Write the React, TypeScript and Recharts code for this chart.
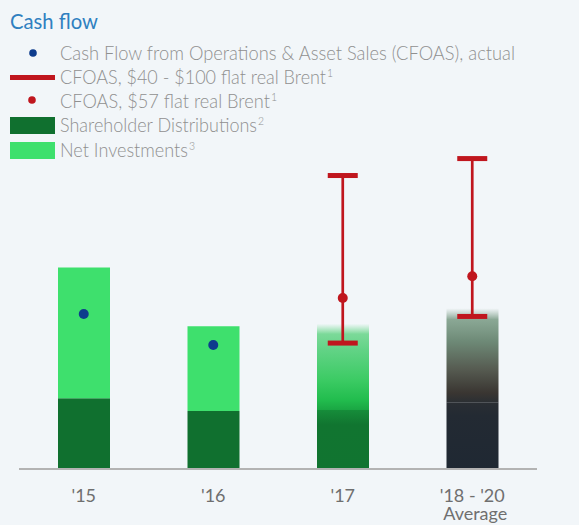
import React from "react";
import { ComposedChart, Bar, Cell, Scatter, ErrorBar, XAxis, YAxis } from "recharts";

const categories = ["'15", "'16", "'17", "'18 - '20"];
const categorySubLabels = ["", "", "", "Average"];
const shareholderDistributions = [14.6, 12.0, 12.2, 13.8];
const netInvestments = [27.0, 17.5, 17.8, 19.4];
const cfoasActual: (number | null)[] = [32.0, 25.6, null, null];
const cfoasBrent57: (number | null)[] = [null, null, 35.3, 39.8];
const cfoasLow: (number | null)[] = [null, null, 26.0, 31.5];
const cfoasHigh: (number | null)[] = [null, null, 60.6, 64.1];

const BG = "#f2f6f9";
const DARK = "#10702f";
const LIGHT = "#3ee06d";
const RED = "#c0161e";
const NAVY = "#0e3c8d";
const TEXT = "#909090";

const data = categories.map((name, i) => ({
  name,
  sub: categorySubLabels[i],
  dist: shareholderDistributions[i],
  inv: netInvestments[i],
  actual: cfoasActual[i],
  brent57: cfoasBrent57[i],
  low: cfoasLow[i],
  high: cfoasHigh[i],
  range:
    cfoasLow[i] != null && cfoasHigh[i] != null
      ? [0, (cfoasHigh[i] as number) - (cfoasLow[i] as number)]
      : undefined,
}));

const distFills = [DARK, DARK, "url(#g17d)", "url(#g18d)"];
const invFills = [LIGHT, LIGHT, "url(#g17l)", "url(#g18l)"];

const ok = (p: any, key: string) =>
  p && p.payload && p.payload[key] != null && Number.isFinite(p.cx) && Number.isFinite(p.cy);

const makeDot = (key: string, color: string) => (p: any) =>
  ok(p, key) ? <circle cx={p.cx} cy={p.cy} r={5} fill={color} /> : <g />;

const makeCap = (key: string) => (p: any) =>
  ok(p, key) ? <rect x={p.cx - 15} y={p.cy - 2.5} width={30} height={5} fill={RED} /> : <g />;

const Tick = (props: any) => {
  const { x, y, payload, index } = props;
  const sub = categorySubLabels[index];
  return (
    <g>
      <text x={x} y={y + 25} textAnchor="middle" fontSize={18} fill="#6f6f6f">
        {payload.value}
      </text>
      {sub ? (
        <text x={x + 3} y={y + 43} textAnchor="middle" fontSize={18} fill="#6f6f6f">
          {sub}
        </text>
      ) : null}
    </g>
  );
};

const FONT = 'Lato, "Open Sans", "Noto Sans", sans-serif';

const legendItems = [
  { label: "Cash Flow from Operations & Asset Sales (CFOAS), actual", sup: "", y: 59.5, len: 455 },
  { label: "CFOAS, $40 - $100 flat real Brent", sup: "1", y: 83.5, len: 273 },
  { label: "CFOAS, $57 flat real Brent", sup: "1", y: 107.5, len: 217 },
  { label: "Shareholder Distributions", sup: "2", y: 132, len: 204 },
  { label: "Net Investments", sup: "3", y: 156.5, len: 135 },
];

export default function App() {
  return (
    <div
      style={{
        position: "absolute",
        left: 0,
        top: 0,
        width: 579,
        height: 525,
        background: BG,
        overflow: "hidden",
        fontFamily: FONT,
      }}
    >
      <ComposedChart
        width={579}
        height={525}
        data={data}
        margin={{ top: 130, right: 42, bottom: 6, left: 19 }}
        style={{ fontFamily: FONT }}
      >
        <defs>
          <linearGradient id="g17l" x1="0" y1="0" x2="0" y2="1">
            <stop offset="0" stopColor="#7adc98" stopOpacity={0} />
            <stop offset="0.12" stopColor="#6ed68e" stopOpacity={0.9} />
            <stop offset="0.3" stopColor="#62d386" />
            <stop offset="0.65" stopColor="#3ccb64" />
            <stop offset="0.88" stopColor="#22bd4e" />
            <stop offset="1" stopColor="#1aa643" />
          </linearGradient>
          <linearGradient id="g17d" x1="0" y1="0" x2="0" y2="1">
            <stop offset="0" stopColor="#168d3a" />
            <stop offset="0.25" stopColor="#117530" />
            <stop offset="1" stopColor="#117430" />
          </linearGradient>
          <linearGradient id="g18l" x1="0" y1="0" x2="0" y2="1">
            <stop offset="0" stopColor="#90ad9b" stopOpacity={0} />
            <stop offset="0.12" stopColor="#7f9f8a" stopOpacity={0.9} />
            <stop offset="0.35" stopColor="#6e8a77" />
            <stop offset="0.65" stopColor="#565b51" />
            <stop offset="0.9" stopColor="#3a3632" />
            <stop offset="1" stopColor="#2b2f33" />
          </linearGradient>
          <linearGradient id="g18d" x1="0" y1="0" x2="0" y2="1">
            <stop offset="0" stopColor="#2a2e33" />
            <stop offset="0.2" stopColor="#232a33" />
            <stop offset="1" stopColor="#1f2833" />
          </linearGradient>
        </defs>
        <XAxis
          dataKey="name"
          height={50}
          interval={0}
          tickLine={false}
          axisLine={{ stroke: "#b3b3b3", strokeWidth: 2 }}
          tick={<Tick />}
        />
        <YAxis hide type="number" domain={[0, 70]} allowDataOverflow />
        <Bar dataKey="dist" stackId="a" barSize={52} isAnimationActive={false}>
          {data.map((_, i) => (
            <Cell key={i} fill={distFills[i]} />
          ))}
        </Bar>
        <Bar dataKey="inv" stackId="a" barSize={52} isAnimationActive={false}>
          {data.map((_, i) => (
            <Cell key={i} fill={invFills[i]} />
          ))}
        </Bar>
        <Scatter dataKey="low" isAnimationActive={false} shape={makeCap("low")}>
          <ErrorBar dataKey="range" direction="y" width={0} stroke={RED} strokeWidth={2.7} />
        </Scatter>
        <Scatter dataKey="high" isAnimationActive={false} shape={makeCap("high")} />
        <Scatter dataKey="brent57" isAnimationActive={false} shape={makeDot("brent57", RED)} />
        <Scatter dataKey="actual" isAnimationActive={false} shape={makeDot("actual", NAVY)} />
      </ComposedChart>
      <svg
        width={579}
        height={170}
        style={{ position: "absolute", left: 0, top: 0, pointerEvents: "none", fontFamily: FONT }}
      >
        <text x={10} y={29} fontSize={22} fill="#2f80c0" textLength={88} lengthAdjust="spacingAndGlyphs">
          Cash flow
        </text>
        <circle cx={33} cy={53} r={3.8} fill={NAVY} />
        <rect x={10} y={75} width={45} height={5} fill={RED} />
        <circle cx={32} cy={100} r={3.8} fill={RED} />
        <rect x={10} y={117} width={45} height={17} fill={DARK} />
        <rect x={10} y={142} width={45} height={17} fill={LIGHT} />
        {legendItems.map((it, i) => (
          <text
            key={i}
            x={60}
            y={it.y}
            fontSize={19}
            fontWeight={300}
            fill={TEXT}
            textLength={it.len}
            lengthAdjust="spacingAndGlyphs"
          >
            {it.label}
            {it.sup ? (
              <tspan dx={1} dy={-7} fontSize={11}>
                {it.sup}
              </tspan>
            ) : null}
          </text>
        ))}
      </svg>
    </div>
  );
}
